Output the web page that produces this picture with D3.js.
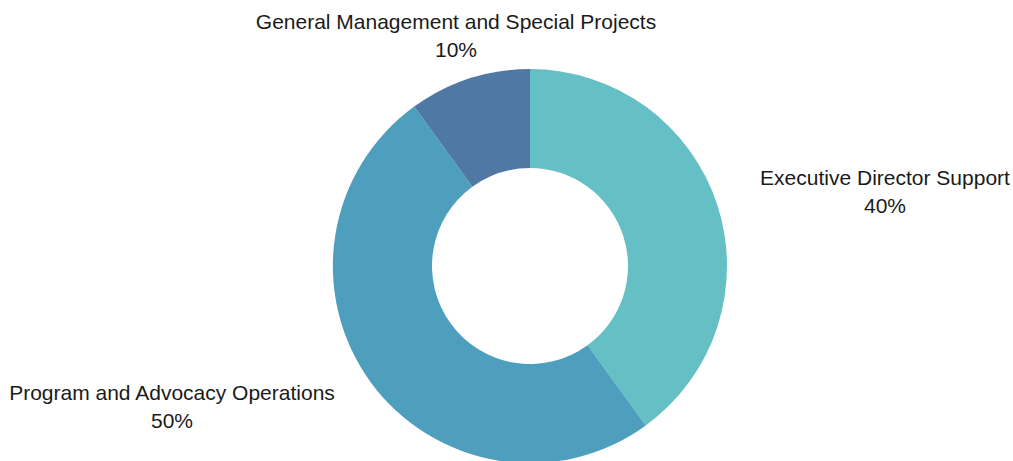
<html>
  <head>
    <meta charset="utf-8">
    <script src="https://cdn.jsdelivr.net/npm/d3@7"></script>
    <style>
      body { margin: 0px; background: #fff; }
      .label text {
        font-family: "Liberation Sans", Arial, sans-serif;
        font-size: 21px;
        fill: #1a1a1a;
      }
    </style>
  </head>
  <body>
    <svg width="1013" height="461"></svg>
    <script>
      var categories = ['Executive Director Support', 'Program and Advocacy Operations', 'General Management and Special Projects'];
      var values = [40, 50, 10];
      var colors = ['#64c0c5', '#4e9ebd', '#4f78a5'];
      // label anchor spots (centre x, first baseline y)
      var labelX = [885, 172, 456];
      var labelY = [185, 400, 29];

      var svg = d3.select('svg');
      var cx = 530, cy = 266;
      var outerR = 197, innerR = 98;

      var data = categories.map((c, i) => ({ name: c, value: values[i], color: colors[i], lx: labelX[i], ly: labelY[i] }));

      var pie = d3.pie().sort(null).value(d => d.value);
      var arc = d3.arc().innerRadius(innerR).outerRadius(outerR);

      var g = svg.append('g').attr('transform', `translate(${cx},${cy})`);
      g.selectAll('path')
        .data(pie(data))
        .enter().append('path')
          .attr('d', arc)
          .attr('fill', d => d.data.color);

      var labels = svg.selectAll('.label')
        .data(data)
        .enter().append('g')
          .attr('class', 'label');
      labels.append('text')
        .attr('x', d => d.lx)
        .attr('y', d => d.ly)
        .attr('text-anchor', 'middle')
        .text(d => d.name);
      labels.append('text')
        .attr('x', d => d.lx)
        .attr('y', d => d.ly + 28)
        .attr('text-anchor', 'middle')
        .text(d => d.value + '%');
    </script>
  </body>
</html>
